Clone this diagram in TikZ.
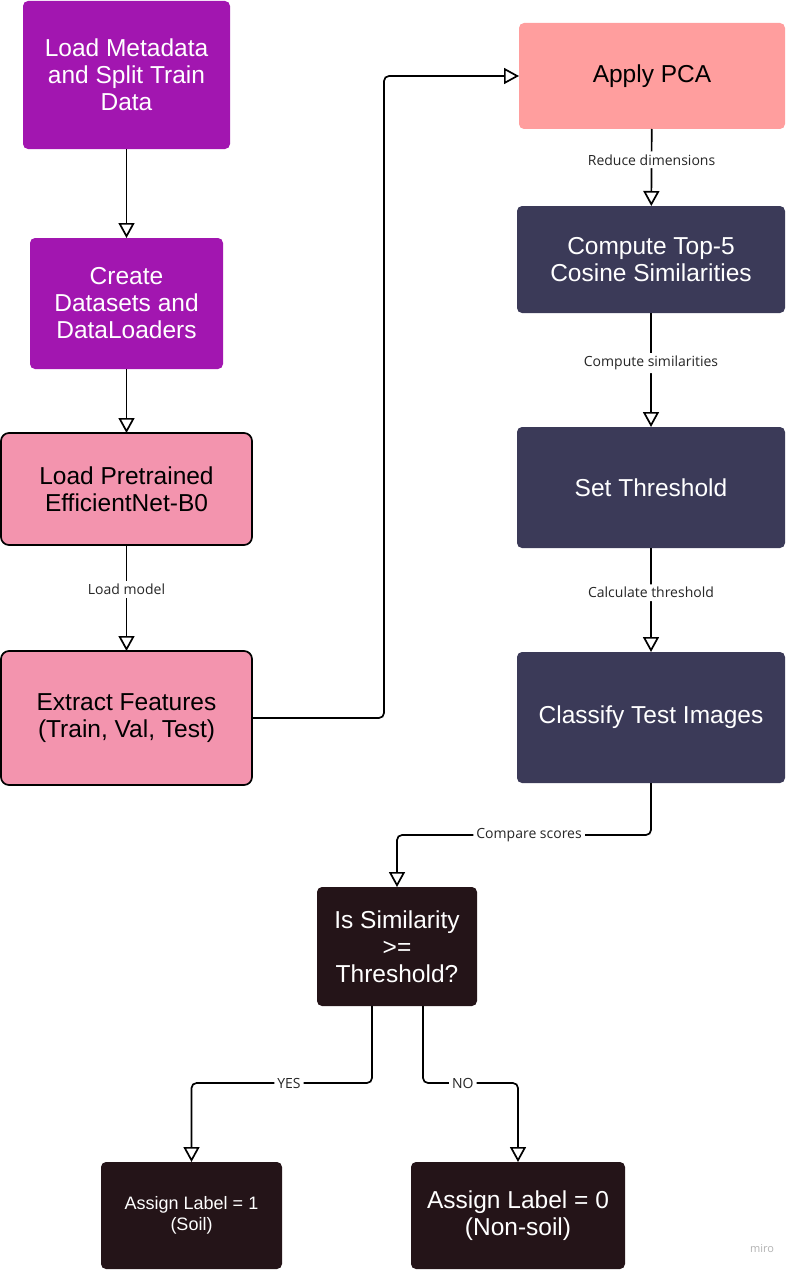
\documentclass[tikz,border=0pt]{standalone}
\usepackage{fontspec}
\setmainfont{Liberation Sans}
\newfontfamily\labelfont{Open Sans}
\usetikzlibrary{arrows.meta,positioning}
\definecolor{loadpurple}{HTML}{A216B0}
\definecolor{modelpink}{HTML}{F394AE}
\definecolor{pcasalmon}{HTML}{FF9E9E}
\definecolor{simnavy}{HTML}{3B3A58}
\definecolor{decidedark}{HTML}{241418}
\begin{document}
\begin{tikzpicture}[x=1pt,y=-1pt,->,>={Triangle[open,width=16pt,length=15pt]},
    line width=1.7pt,rounded corners=5pt,
    box/.style={rectangle,align=center,inner sep=0pt,outer sep=0pt,
      font=\fontsize{24.5}{27}\selectfont},
    purplebox/.style={box,fill=loadpurple,text=white},
    pinkbox/.style={box,fill=modelpink,draw=black,rounded corners=8pt},
    salmonbox/.style={box,fill=pcasalmon,text=black},
    navybox/.style={box,fill=simnavy,text=white},
    darkbox/.style={box,fill=decidedark,text=white},
    lbl/.style={fill=white,text=black!85,inner sep=3pt,
      font=\labelfont\fontsize{14}{16}\selectfont}]
  \useasboundingbox (0,0) rectangle (786,1271);
  \node[purplebox, minimum width=207pt, minimum height=148pt] (meta) at (126.5,75)
    {Load Metadata\\and Split Train\\Data};
  \node[purplebox, minimum width=193pt, minimum height=131pt] (datasets) [below=89pt of meta]
    {Create\\Datasets and\\DataLoaders};
  \node[pinkbox, minimum width=251pt, minimum height=112pt] (pretrained) [below=64pt of datasets]
    {Load Pretrained\\EfficientNet-B0};
  \node[pinkbox, minimum width=251pt, minimum height=134pt] (extract) [below=106pt of pretrained]
    {Extract Features\\(Train, Val, Test)};
  \node[salmonbox, minimum width=266pt, minimum height=106pt] (pca) at (652,76) {Apply PCA};
  \node[navybox, minimum width=268pt, minimum height=107pt] (topfive) at (651,259.5)
    {Compute Top-5\\Cosine Similarities};
  \node[navybox, minimum width=268pt, minimum height=121pt] (threshold) [below=114pt of topfive]
    {Set Threshold};
  \node[navybox, minimum width=268pt, minimum height=131pt] (classify) [below=104pt of threshold]
    {Classify Test Images};
  \node[darkbox, minimum width=160pt, minimum height=119pt] (issim) at (397,946.5)
    {Is Similarity\\>=\\Threshold?};
  \node[darkbox, minimum width=181pt, minimum height=107pt,
    font=\fontsize{18}{21}\selectfont] (soil) at (191.5,1215.5)
    {Assign Label = 1\\(Soil)};
  \node[darkbox, minimum width=214pt, minimum height=107pt] (nonsoil) at (518,1215.5)
    {Assign Label = 0\\(Non-soil)};
  \node[text=black!30, font=\labelfont\fontsize{11}{13}\selectfont] (miro) at (762,1249) {miro};
  \draw (meta) -- (datasets);
  \draw (datasets) -- (pretrained);
  \draw (pretrained) -- node[lbl, pos=0.42] {Load model} (extract);
  \draw (extract.east) -- ++(132,0) |- (pca.west);
  \draw (pca) -- node[lbl, pos=0.4] {Reduce dimensions} (topfive);
  \draw (topfive) -- node[lbl, pos=0.44] {Compute similarities} (threshold);
  \draw (threshold) -- node[lbl, pos=0.43] {Calculate threshold} (classify);
  \draw (classify.south) -- ++(0,52) -| node[lbl, pos=0.24] {Compare scores} (issim.north);
  \draw ([xshift=-25pt]issim.south) -- ++(0,77) -| node[lbl, pos=0.23] {YES} (soil.north);
  \draw ([xshift=26pt]issim.south) -- ++(0,77) -| node[lbl, pos=0.21] {NO} (nonsoil.north);
\end{tikzpicture}
\end{document}
